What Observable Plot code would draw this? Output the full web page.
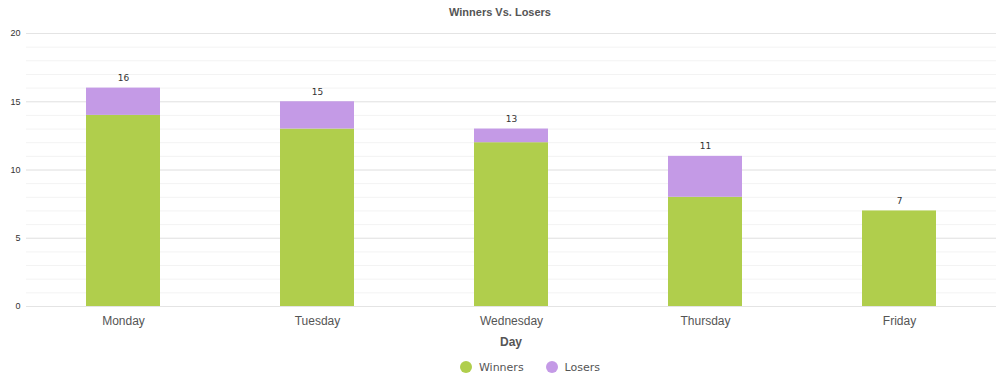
<!DOCTYPE html>
<html>
<head>
<meta charset="utf-8">
<script src="https://cdn.jsdelivr.net/npm/d3@7"></script>
<script src="https://cdn.jsdelivr.net/npm/@observablehq/plot@0.6"></script>
<style>
  body { margin: 0; background: #fff; font-family: "Liberation Sans", Arial, sans-serif; }
  #title { height: 24px; line-height: 24px; text-align: center; font-weight: bold; font-size: 11px; color: #555; }
  #xlabel { height: 18px; line-height: 19px; text-align: center; font-weight: bold; font-size: 12px; color: #555; padding-left: 22px; }
  #legend { height: 30px; display: flex; justify-content: center; align-items: center; gap: 22px; font-family: "DejaVu Sans", Verdana, sans-serif; font-size: 11px; color: #555; padding-left: 60px; padding-top: 1px; }
  .item { display: flex; align-items: center; gap: 7px; }
  .dot { width: 12px; height: 12px; border-radius: 50%; display: inline-block; }
  #chart svg { display: block; }
</style>
</head>
<body>
<div id="title">Winners Vs. Losers</div>
<div id="chart"></div>
<div id="xlabel">Day</div>
<div id="legend"></div>
<script>
const days = ["Monday", "Tuesday", "Wednesday", "Thursday", "Friday"];
const winners = [14, 13, 12, 8, 7];
const losers = [2, 2, 1, 3, 0];
const seriesNames = ["Winners", "Losers"];
const seriesColors = ["#b0ce4c", "#c49ae6"];
const majorTicks = [0, 5, 10, 15, 20];
const minorTicks = d3.range(0, 21);

const rows = [];
days.forEach((d, i) => {
  rows.push({day: d, series: "Winners", value: winners[i]});
  rows.push({day: d, series: "Losers", value: losers[i]});
});
const totals = days.map((d, i) => ({day: d, total: winners[i] + losers[i]}));

const chart = Plot.plot({
  width: 1000,
  height: 309,
  marginTop: 9,
  marginBottom: 27,
  marginLeft: 26,
  marginRight: 4,
  style: {fontFamily: "'Liberation Sans', Arial, sans-serif", background: "#fff"},
  x: {domain: days, paddingInner: 0.62, paddingOuter: 0.31, label: null},
  y: {domain: [0, 20], label: null},
  color: {domain: seriesNames, range: seriesColors},
  marks: [
    Plot.gridY(minorTicks, {stroke: "#f3f3f3", strokeOpacity: 1}),
    Plot.gridY(majorTicks, {stroke: "#e4e4e4", strokeOpacity: 1}),
    Plot.axisY(majorTicks, {tickSize: 0, tickPadding: 6, fontSize: 9, fill: "#333", label: null}),
    Plot.axisX({tickSize: 0, tickPadding: 10, fontSize: 12, fill: "#555", label: null}),
    Plot.barY(rows, {x: "day", y: "value", fill: "series"}),
    Plot.text(totals, {x: "day", y: "total", text: d => String(d.total), dy: -10, fontSize: 9, fill: "#333", fontFamily: "'DejaVu Sans', Verdana, sans-serif"})
  ]
});
document.getElementById("chart").appendChild(chart);

const legend = document.getElementById("legend");
seriesNames.forEach((name, i) => {
  const item = document.createElement("span");
  item.className = "item";
  const dot = document.createElement("span");
  dot.className = "dot";
  dot.style.background = seriesColors[i];
  const label = document.createElement("span");
  label.textContent = name;
  item.appendChild(dot);
  item.appendChild(label);
  legend.appendChild(item);
});
</script>
</body>
</html>
